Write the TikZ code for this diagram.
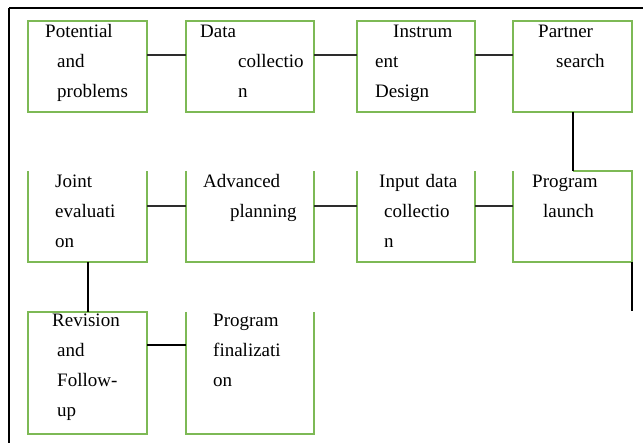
\documentclass[tikz,border=0pt]{standalone}
\usepackage{fontspec}
\setmainfont{Liberation Serif}
\usepackage{tikz}
\usetikzlibrary{positioning}
\definecolor{boxgreen}{RGB}{125,185,85}
\definecolor{linkgray}{RGB}{45,45,45}
\tikzset{
    stepbox/.style={
        draw=boxgreen,
        rectangle,
        line width=1.3pt,
        minimum height=91pt,
        inner sep=0pt,
        outer sep=0pt
    },
    openbox/.style={
        rectangle,
        minimum height=91pt,
        inner sep=0pt,
        outer sep=0pt
    },
    sidelines/.style={
        draw=boxgreen,
        line width=1.3pt
    },
    txt/.style={
        font=\fontsize{19pt}{29.7pt}\selectfont,
        text width=110pt,
        align=left,
        inner sep=0pt,
        anchor=base west
    },
    link/.style={
        draw=linkgray,
        line width=1.8pt
    },
    drop/.style={
        draw=black,
        line width=2pt
    },
    frame/.style={
        draw=black,
        line width=1.5pt
    }
}

\begin{document}
\begin{tikzpicture}[x=1pt, y=-1pt]
\useasboundingbox (0,0) rectangle (643,443);

\draw[frame] (9,8) -- (643,8);
\draw[frame] (9,8) -- (9,443);

% first row
\node[stepbox, minimum width=119pt, anchor=north west] (pot) at (28,21) {};
\node[stepbox, minimum width=128pt, right=39pt of pot] (data) {};
\node[stepbox, minimum width=118pt, right=43pt of data] (instr) {};
\node[stepbox, minimum width=119pt, right=38pt of instr] (search) {};

% second row
\node[openbox, minimum width=119pt, below=59pt of pot] (joint) {};
\node[openbox, minimum width=128pt, right=39pt of joint] (plan) {};
\node[openbox, minimum width=118pt, right=43pt of plan] (input) {};
\node[openbox, minimum width=119pt, right=38pt of input] (launch) {};

% third row
\node[stepbox, minimum width=119pt, minimum height=122pt, below=50pt of joint] (revis) {};
\node[openbox, minimum width=128pt, minimum height=122pt, right=39pt of revis] (final) {};

\foreach \n in {joint,plan,input,final}
    \draw[sidelines] (\n.north west) |- (\n.south east) -- (\n.north east);
\draw[sidelines] (search.south |- launch.north) -- (launch.north east) |- (launch.south west) -- (launch.north west);

\node[txt] (pot-t) at ([xshift=17pt, yshift=-17pt]pot.north west) {Potential\\\hspace*{12pt}and\\\hspace*{12pt}problems};
\node[txt] (data-t) at ([xshift=14pt, yshift=-17pt]data.north west) {Data\\\hspace*{38pt}collectio\\\hspace*{38pt}n};
\node[txt] (instr-t) at ([xshift=18pt, yshift=-17pt]instr.north west) {\hspace*{18pt}Instrum\\ent\\Design};
\node[txt] (search-t) at ([xshift=25pt, yshift=-17pt]search.north west) {Partner\\\hspace*{18pt}search};

\node[txt] (joint-t) at ([xshift=27pt, yshift=-17pt]joint.north west) {Joint\\evaluati\\on};
\node[txt] (plan-t) at ([xshift=17pt, yshift=-17pt]plan.north west) {Advanced\\\hspace*{27pt}planning};
\node[txt] (input-t) at ([xshift=22pt, yshift=-17pt]input.north west) {Input data\\\hspace*{5pt}collectio\\\hspace*{5pt}n};
\node[txt] (launch-t) at ([xshift=19pt, yshift=-17pt]launch.north west) {Program\\\hspace*{11pt}launch};

\node[txt] (revis-t) at ([xshift=24pt, yshift=-15pt]revis.north west) {Revision\\\hspace*{5pt}and\\\hspace*{5pt}Follow-\\\hspace*{5pt}up};
\node[txt] (final-t) at ([xshift=27pt, yshift=-15pt]final.north west) {Program\\finalizati\\on};

\draw[link] ([yshift=11.5pt]pot.east) -- ([yshift=11.5pt]data.west);
\draw[link] ([yshift=11.5pt]data.east) -- ([yshift=11.5pt]instr.west);
\draw[link] ([yshift=11.5pt]instr.east) -- ([yshift=11.5pt]search.west);
\draw[drop] (search) -- (launch);
\draw[link] ([yshift=10.5pt]launch.west) -- ([yshift=10.5pt]input.east);
\draw[link] ([yshift=10.5pt]input.west) -- ([yshift=10.5pt]plan.east);
\draw[link] ([yshift=10.5pt]plan.west) -- ([yshift=10.5pt]joint.east);
\coordinate (tail) at ([yshift=-49pt]launch.south east);
\draw[drop] (launch.south east) -- (tail);
\draw[drop] (joint) -- (revis);
\draw[drop, line width=2.6pt] ([yshift=28pt]revis.east) -- ([yshift=28pt]final.west);

\end{tikzpicture}
\end{document}
